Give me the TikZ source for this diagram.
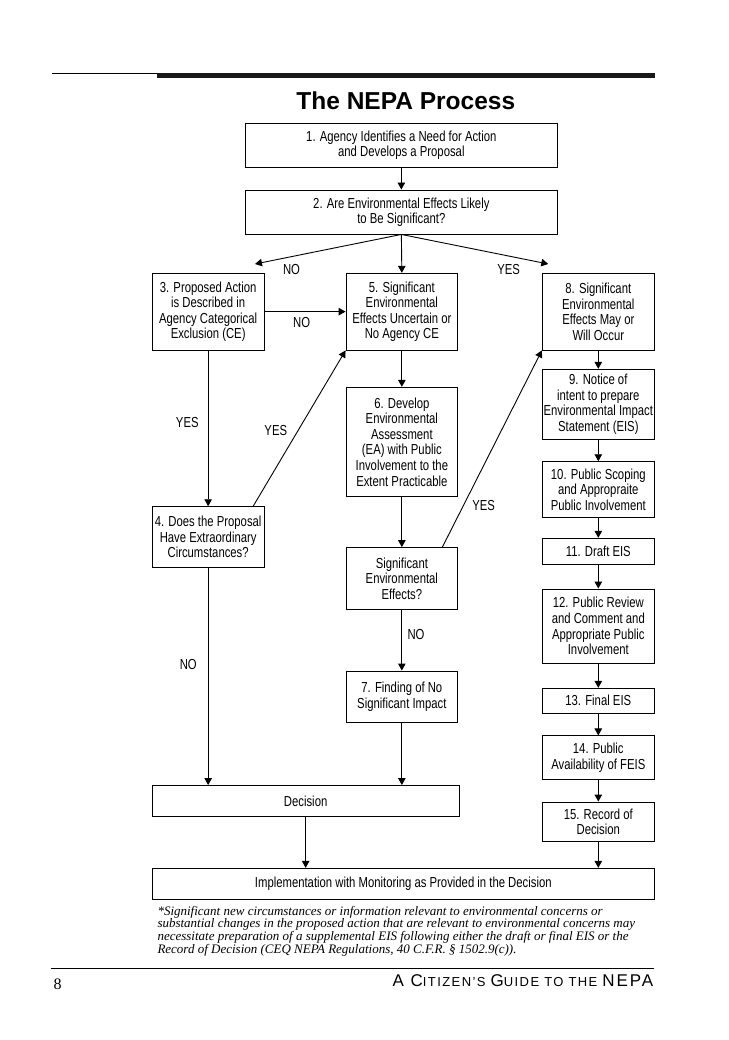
\documentclass[tikz,border=0pt]{standalone}
\usepackage{fontspec}
\setmainfont{Liberation Sans}[FakeStretch=0.78]
\newfontfamily\titlefont{Liberation Sans}
\newfontfamily\serifit{Liberation Serif}
\newfontfamily\footfont{Liberation Sans}[LetterSpace=11]
\usetikzlibrary{arrows.meta}
\newcommand\boxfont{\fontsize{14.5}{15.6}\selectfont}
\newcommand\boxfontB{\fontsize{14.5}{14.8}\selectfont}
\newcommand\bigC{\fontsize{17}{17}\selectfont}
\newcommand\smC{\fontsize{13}{13}\selectfont}
\tikzset{
  box/.style={draw, line width=0.9pt, align=center, inner sep=0pt, font=\boxfont},
  boxB/.style={box, font=\boxfontB},
  lbl/.style={font=\boxfont, inner sep=0pt},
  arr/.style={line width=0.9pt, -{Triangle[length=7pt,width=7.5pt]}},
}
\begin{document}
\begin{tikzpicture}[x=1pt,y=-1pt]
\useasboundingbox (0,0) rectangle (728,1040);
% top rules
\coordinate (tl1) at (52.3,73.4);
\coordinate (tl2) at (156.7,73.4);
\draw[line width=1pt] (tl1) -- (tl2);
\fill[black!90] (156.7,72.7) rectangle (655,78.3);
% title
\node[anchor=base, inner sep=0pt, font=\titlefont\bfseries\fontsize{24.5}{26}\selectfont] (title) at (405.8,110) {The NEPA Process};
% boxes
\node[boxB, minimum width=312.7pt, minimum height=44pt] (n1) at (401.35,145.3) {1. Agency Identifies a Need for Action\\and Develops a Proposal};
\node[boxB, minimum width=312.7pt, minimum height=44pt] (n2) at (401.35,212) {2. Are Environmental Effects Likely\\to Be Significant?};
\node[box, minimum width=111.7pt, minimum height=76.7pt] (n3) at (208.15,311.65) {3. Proposed Action\\is Described in\\Agency Categorical\\Exclusion (CE)};
\node[box, minimum width=111.7pt, minimum height=76.7pt] (n5) at (401.85,311.65) {5. Significant\\Environmental\\Effects Uncertain or\\No Agency CE};
\node[box, minimum width=112pt, minimum height=76.7pt] (n8) at (598.3,311.65) {8. Significant\\Environmental\\Effects May or\\Will Occur};
\node[box, minimum width=111.7pt, minimum height=109.4pt] (n6) at (401.85,442) {6. Develop\\Environmental\\Assessment\\(EA) with Public\\Involvement to the\\Extent Practicable};
\node[box, minimum width=112pt, minimum height=69.7pt] (n9) at (598.3,404.15) {9. Notice of\\intent to prepare\\Environmental Impact\\Statement (EIS)};
\node[box, minimum width=112pt, minimum height=55.6pt] (n10) at (598.3,489.5) {10. Public Scoping\\and Appropraite\\Public Involvement};
\node[box, minimum width=111.7pt, minimum height=60.9pt] (n4) at (208.15,537.15) {4. Does the Proposal\\Have Extraordinary\\Circumstances?};
\node[box, minimum width=111.7pt, minimum height=62.1pt] (sig) at (401.85,578.65) {Significant\\Environmental\\Effects?};
\node[box, minimum width=112pt, minimum height=26.5pt] (n11) at (598.3,551.55) {11. Draft EIS};
\node[box, minimum width=112pt, minimum height=74.4pt] (n12) at (598.3,626.2) {12. Public Review\\and Comment and\\Appropriate Public\\Involvement};
\node[box, minimum width=111.7pt, minimum height=51.8pt] (n7) at (401.85,696.9) {7. Finding of No\\Significant Impact};
\node[box, minimum width=112pt, minimum height=24.8pt] (n13) at (598.3,700.7) {13. Final EIS};
\node[box, minimum width=112pt, minimum height=43.8pt] (n14) at (598.3,757.8) {14. Public\\Availability of FEIS};
\node[box, minimum width=112pt, minimum height=39.7pt] (n15) at (598.3,821.85) {15. Record of\\Decision};
\node[box, minimum width=306.7pt, minimum height=31.1pt] (dec) at (305.65,801.05) {Decision};
\node[box, minimum width=502pt, minimum height=31pt] (impl) at (403.3,883.8) {Implementation with Monitoring as Provided in the Decision};
% free ends
\coordinate (tipL) at (255,264);
\coordinate (tipR) at (548.3,264);
% connectors
\draw[arr] (n1) -- (n2);
\draw[arr] (n2.south) -- (tipL);
\draw[arr] (n2.south) -- (n5.north);
\draw[arr] (n2.south) -- (tipR);
\draw[arr] (n3.east) -- (n5.west);
\draw[arr] (n3.south) -- (n4.north);
\draw[arr] ([xshift=-11.3pt]n4.north east) -- (n5.south west);
\draw[arr] (n5) -- (n6);
\draw[arr] (n6) -- (sig);
\draw[arr] (sig) -- (n7);
\draw[arr] ([xshift=-15.8pt]sig.north east) -- (n8.south west);
\draw[arr] (n8) -- (n9);
\draw[arr] (n9) -- (n10);
\draw[arr] (n10) -- (n11);
\draw[arr] (n11) -- (n12);
\draw[arr] (n12) -- (n13);
\draw[arr] (n13) -- (n14);
\draw[arr] (n14) -- (n15);
\draw[arr] (n4.south) -- (n4.south |- dec.north);
\draw[arr] (n7.south) -- (n7.south |- dec.north);
\draw[arr] (dec.south) -- (dec.south |- impl.north);
\draw[arr] (n15.south) -- (n15.south |- impl.north);
% labels
\node[lbl] (lno1) at (291.5,270) {NO};
\node[lbl] (lno2) at (301.7,322.7) {NO};
\node[lbl] (lyes1) at (187.3,423) {YES};
\node[lbl] (lyes2) at (275.8,430.7) {YES};
\node[lbl] (lyes3) at (508.7,270) {YES};
\node[lbl] (lyes4) at (483.7,505.3) {YES};
\node[lbl] (lno3) at (188.3,665) {NO};
\node[lbl] (lno4) at (416,635) {NO};
% footnote
\node[anchor=base west, inner sep=0pt, align=left, font=\serifit\itshape\fontsize{13}{12.8}\selectfont] (fn) at (157.3,953.4) {*Significant new circumstances or information relevant to environmental concerns or\\substantial changes in the proposed action that are relevant to environmental concerns may\\necessitate preparation of a supplemental EIS following either the draft or final EIS or the\\Record of Decision (CEQ NEPA Regulations, 40 C.F.R. § 1502.9(c)).};
% footer
\coordinate (fr1) at (51,968.3);
\coordinate (fr2) at (654,968.3);
\draw[line width=1pt] (fr1) -- (fr2);
\node[anchor=base west, inner sep=0pt, font=\serifit\fontsize{16}{16}\selectfont] (pg) at (53.3,989) {8};
\node[anchor=base east, inner sep=0pt] (guide) at (653.3,986.7) {\footfont\bigC A C\smC ITIZEN’S \bigC G\smC UIDE TO THE \bigC NEPA};
\end{tikzpicture}
\end{document}
